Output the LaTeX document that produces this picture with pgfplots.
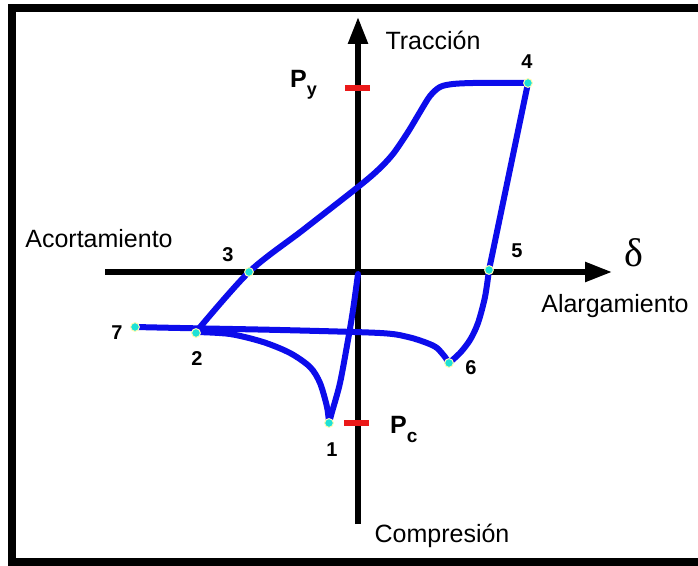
\documentclass[border=0pt]{standalone}
\usepackage{fontspec}
\setmainfont{Liberation Sans}
\newfontfamily\serifdelta{Liberation Serif}
\usepackage{pgfplots}
\pgfplotsset{compat=1.18}
\usetikzlibrary{arrows.meta}
\definecolor{curve}{RGB}{12,12,235}
\definecolor{dot}{RGB}{30,225,215}
\definecolor{redtick}{RGB}{235,25,25}
\begin{document}
\begin{tikzpicture}
\begin{axis}[
  scale only axis, width=698pt, height=565pt,
  xmin=-358, xmax=340, ymin=-293, ymax=272,
  hide axis, clip=true,
]
% frame
\addplot[black, line width=8pt, line join=miter] coordinates {(350,264) (-346,264) (-346,-290) (350,-290)};
% axes
\addplot[black, line width=5.5pt, -{Triangle[length=27pt,width=19pt]}] coordinates {(-253,0) (254,0)};
\addplot[black, line width=5.5pt, -{Triangle[length=27pt,width=19pt]}] coordinates {(0,-252) (0,255)};
% Py and Pc marks
\addplot[redtick, line width=6.5pt] coordinates {(-13,184) (12,184)};
\addplot[redtick, line width=6.5pt] coordinates {(-14,-151) (11,-151)};
% hysteresis curve
\addplot[curve, line width=6pt, smooth, line cap=round] coordinates {(0,-2) (-5,-38) (-10,-68) (-18,-111) (-26,-140) (-29,-151)};
\addplot[curve, line width=6pt, smooth, line cap=round] coordinates {(-29,-151) (-31,-135) (-38,-111) (-48,-95) (-68,-81) (-95,-70) (-128,-62) (-162,-60)};
\addplot[curve, line width=6pt, smooth, line cap=round] coordinates {(-162,-60) (-109,0) (-55,42) (0,85) (20,102) (35,118) (50,140) (62,160) (72,176) (82,185) (95,188) (115,189) (142,189) (170,189)};
\addplot[curve, line width=6pt, line cap=round] coordinates {(170,189) (131,2)};
\addplot[curve, line width=6pt, smooth, line cap=round] coordinates {(131,2) (127,-25) (120,-51) (112,-68) (102,-81) (91,-91)};
\addplot[curve, line width=6pt, smooth, line cap=round] coordinates {(91,-91) (87,-85) (79,-76) (69,-71) (50,-65) (22,-61) (-78,-58) (-178,-56) (-223,-55)};
% points
\addplot[only marks, mark=*, mark size=4.4pt, mark options={fill=dot, draw=yellow!30, line width=1pt}] coordinates {(-29,-151) (-162,-61) (-109,0) (170,189) (131,2) (91,-91) (-223,-55)};
% point labels
\begin{scope}[every node/.style={font=\fontsize{20}{20}\selectfont\bfseries}]
\node at (axis cs:-26,-178) {1};
\node at (axis cs:-161,-87) {2};
\node at (axis cs:-130,17) {3};
\node at (axis cs:169,210) {4};
\node at (axis cs:159,21) {5};
\node at (axis cs:113,-96) {6};
\node at (axis cs:-241,-61) {7};
\end{scope}
% texts
\begin{scope}[every node/.style={font=\fontsize{25}{25}\selectfont, inner sep=0pt}]
\node[anchor=base] at (axis cs:75,222) {Tracción};
\node[anchor=base] at (axis cs:-259,24) {Acortamiento};
\node[anchor=base] at (axis cs:257,-41) {Alargamiento};
\node[anchor=base] at (axis cs:84,-270) {Compresión};
\node[anchor=base west] at (axis cs:-68,184) {\bfseries P\raisebox{-8pt}{\fontsize{18}{18}\selectfont\bfseries y}};
\node[anchor=base west] at (axis cs:32,-161) {\bfseries P\raisebox{-9pt}{\fontsize{19}{19}\selectfont\bfseries c}};
\node[anchor=base] at (axis cs:276,5) {\fontsize{40}{40}\selectfont\serifdelta δ};
\end{scope}
\end{axis}
\pgfresetboundingbox
\path[use as bounding box] (current axis.south west) rectangle (current axis.north east);
\end{tikzpicture}
\end{document}
